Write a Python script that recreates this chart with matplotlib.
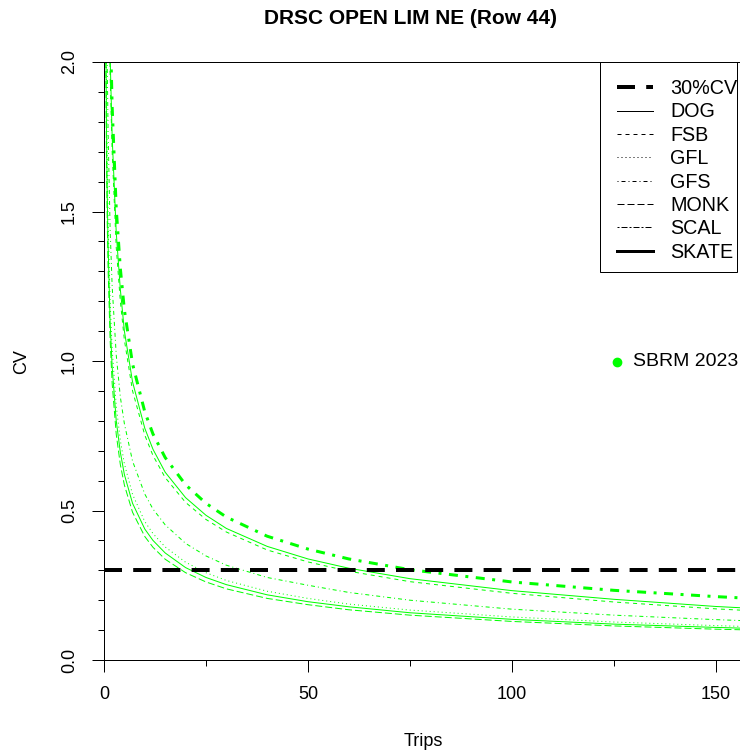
import matplotlib
matplotlib.use('Agg')
import matplotlib.pyplot as plt
from matplotlib.lines import Line2D
from matplotlib.patches import Rectangle

plt.rcParams['font.family'] = ['Liberation Sans', 'DejaVu Sans']

# trips sampled along the curves
trips = [0.4, 0.6, 0.8, 1, 1.5, 2, 3, 4, 5, 7, 10, 12, 15, 20, 25, 30, 40, 50, 60, 75, 100, 125, 150, 160]

cv_dog = [3.92, 3.2, 2.77, 2.48, 2.02, 1.75, 1.43, 1.24, 1.1, 0.93, 0.775, 0.705, 0.628, 0.543, 0.484, 0.44, 0.38, 0.338, 0.307, 0.272, 0.232, 0.203, 0.179, 0.172]
cv_fsb = [3.8, 3.1, 2.68, 2.4, 1.96, 1.7, 1.38, 1.2, 1.07, 0.9, 0.752, 0.684, 0.61, 0.527, 0.47, 0.428, 0.368, 0.328, 0.297, 0.262, 0.223, 0.194, 0.171, 0.164]
cv_gfl = [2.32, 1.9, 1.64, 1.47, 1.2, 1.04, 0.85, 0.735, 0.656, 0.554, 0.463, 0.423, 0.378, 0.327, 0.292, 0.266, 0.23, 0.206, 0.187, 0.167, 0.144, 0.127, 0.115, 0.111]
cv_gfs = [2.8, 2.28, 1.98, 1.77, 1.44, 1.25, 1.02, 0.88, 0.79, 0.665, 0.555, 0.505, 0.452, 0.39, 0.348, 0.317, 0.276, 0.25, 0.226, 0.2, 0.17, 0.15, 0.135, 0.13]
cv_monk = [2.07, 1.69, 1.46, 1.31, 1.07, 0.925, 0.755, 0.654, 0.585, 0.494, 0.413, 0.377, 0.337, 0.292, 0.261, 0.238, 0.206, 0.185, 0.168, 0.15, 0.129, 0.114, 0.103, 0.1]
cv_scal = [2.2, 1.79, 1.55, 1.39, 1.13, 0.98, 0.8, 0.695, 0.62, 0.524, 0.438, 0.4, 0.358, 0.309, 0.276, 0.252, 0.218, 0.195, 0.178, 0.158, 0.136, 0.12, 0.109, 0.105]
cv_skate = [4.15, 3.38, 2.93, 2.62, 2.14, 1.85, 1.51, 1.31, 1.17, 0.99, 0.83, 0.756, 0.677, 0.586, 0.524, 0.478, 0.414, 0.371, 0.338, 0.302, 0.261, 0.233, 0.212, 0.205]

species = ['DOG', 'FSB', 'GFL', 'GFS', 'MONK', 'SCAL', 'SKATE']
target_cv = 0.3
green = '#00FF00'
px = 0.72  # one pixel in points at dpi 100
W, H = 740, 755

fig = plt.figure(figsize=(7.4, 7.55), dpi=100)
ax = fig.add_axes([104/W, 1 - 660/H, 638/W, 598/H])

#curvas
ax.plot(trips, cv_dog, color=green, lw=px, linestyle='-')
ax.plot(trips, cv_fsb, color=green, lw=px, linestyle=(0, (4, 4)))
ax.plot(trips, cv_gfl, color=green, lw=px, linestyle=(0, (1, 3)))
ax.plot(trips, cv_gfs, color=green, lw=px, linestyle=(0, (1, 3, 4, 3)))
ax.plot(trips, cv_monk, color=green, lw=px, linestyle=(0, (7, 3)))
ax.plot(trips, cv_scal, color=green, lw=px, linestyle='-')
ax.plot(trips, cv_skate, color=green, lw=3*px, linestyle=(0, (3, 2.5, 1, 2.5)))
ax.axhline(target_cv, color='black', lw=4*px, linestyle=(0, (4.5, 2.8)))

ax.set_xlim(0, 156.4)
ax.set_ylim(0, 2.0)
ax.set_xticks([0, 50, 100, 150])
ax.set_xticks([25, 75, 125], minor=True)
ax.set_yticks([0, 0.5, 1.0, 1.5, 2.0])
ax.set_yticks([0.1, 0.2, 0.3, 0.4, 0.6, 0.7, 0.8, 0.9, 1.1, 1.2, 1.3, 1.4, 1.6, 1.7, 1.8, 1.9], minor=True)
ax.set_yticklabels(['0.0', '0.5', '1.0', '1.5', '2.0'], rotation=90, va='center')
ax.tick_params(axis='both', which='major', length=12*px, width=px, labelsize=13, pad=10)
ax.tick_params(axis='both', which='minor', length=6*px, width=px)
for s in ax.spines.values():
    s.set_linewidth(px)

fig.text(410/W, 1 - 18/H, 'DRSC OPEN LIM NE (Row 44)', ha='center', va='center', fontsize=15, fontweight='bold')
fig.text(423/W, 1 - 741/H, 'Trips', ha='center', va='center', fontsize=13)
fig.text(22/W, 1 - 362/H, 'CV', ha='center', va='center', fontsize=13, rotation=90)

# legenda (caixa desenhada à parte, estilo R)
handles = [Line2D([], [], color='black', lw=4*px, linestyle=(0, (4.5, 2.8)))]
styles = ['-', (0, (4, 4)), (0, (1, 3)), (0, (1, 3, 4, 3)), (0, (7, 3)), (0, (2, 2, 6, 2))]
for st in styles:
    handles.append(Line2D([], [], color='black', lw=px, linestyle=st))
handles.append(Line2D([], [], color='black', lw=3*px, linestyle='-'))
fig.legend(handles, ['30%CV'] + species, loc='upper left',
           bbox_to_anchor=(600/W, 1 - 62/H), bbox_transform=fig.transFigure,
           fontsize=14.2, frameon=False, borderaxespad=0, handlelength=1.83,
           handletextpad=0.87, labelspacing=0.22, borderpad=0.87)
fig.add_artist(Rectangle((600/W, 1 - 272/H), 137/W, 210/H, transform=fig.transFigure,
                         fill=False, edgecolor='black', lw=px))

fig.add_artist(Line2D([617/W], [1 - 362/H], transform=fig.transFigure, marker='o',
                      color=green, markersize=6, linestyle='none'))
fig.text(633/W, 1 - 362/H, 'SBRM 2023', ha='left', va='center', fontsize=14)

fig.savefig('out.png', dpi=100)
